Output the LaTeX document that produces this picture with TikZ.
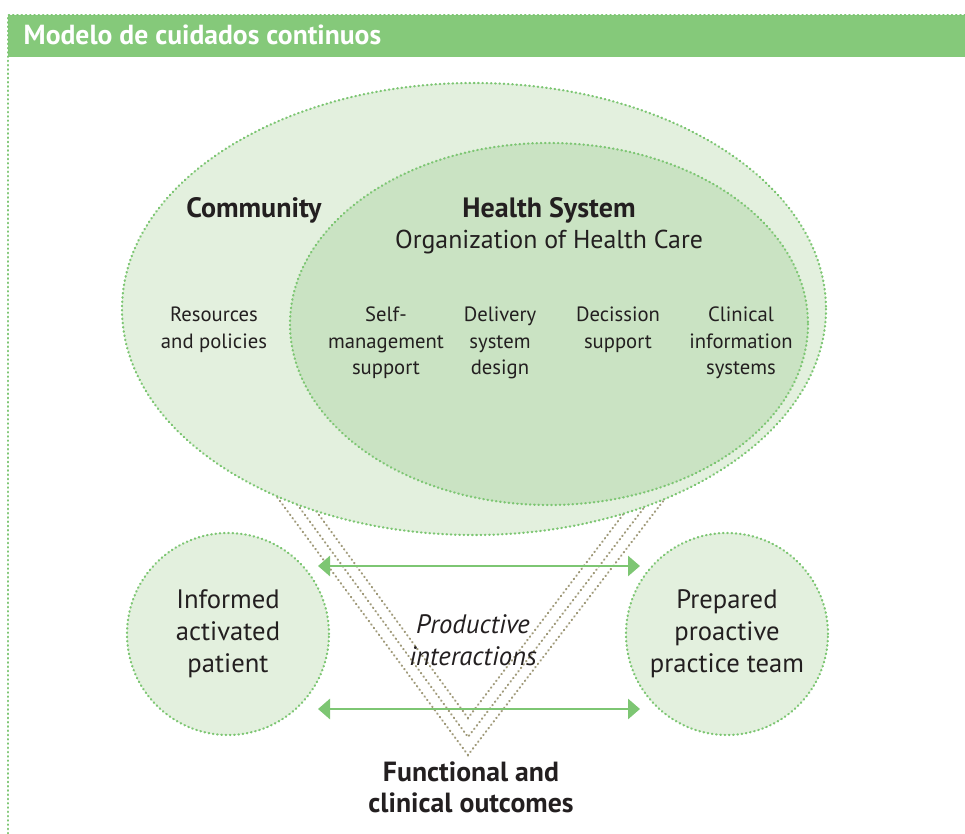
\documentclass[tikz,border=0pt]{standalone}
\usepackage{fontspec}
\setmainfont{PT Sans}
\usetikzlibrary{arrows.meta}

\begin{document}
\begin{tikzpicture}[
  x=0.75pt, y=-0.75pt,
  rim/.style={draw=rimgreen, line width=1.7pt, dash pattern=on 0.4pt off 2.8pt, line cap=round},
  vline/.style={draw=vgray, line width=1.6pt, dash pattern=on 0.4pt off 2.8pt, line cap=round},
  link/.style={draw=rimgreen, line width=2.2pt, {Triangle[length=9pt,width=15pt]}-{Triangle[length=9pt,width=15pt]}},
  small/.style={align=center, text=ink, font=\fontsize{15.5}{20}\selectfont},
  big/.style={align=center, text=ink, font=\fontsize{20}{24}\selectfont},
  heavy/.style={big, font=\fontsize{21}{23.5}\selectfont\bfseries},
  actor/.style={circle, rim, fill=paleg, minimum size=151.5pt, inner sep=0pt, big},
]
\definecolor{rimgreen}{RGB}{125,198,115}
\definecolor{headg}{RGB}{133,201,122}
\definecolor{paleg}{RGB}{227,240,222}
\definecolor{midg}{RGB}{202,227,195}
\definecolor{vgray}{RGB}{160,154,122}
\definecolor{ink}{RGB}{35,31,32}

\useasboundingbox (0,0) rectangle (965,834);

\fill [headg] (8,15) rectangle (965,57);
\draw [rim] (965,15) -- (8,15) -- (8,834);
\node [anchor=base west, text=white, font=\fontsize{20.7}{22}\selectfont\bfseries] (title) at (19,45) {Modelo de cuidados continuos};

\draw [vline] (257,470) -- (468,755) -- (687,470);
\draw [vline] (272,470) -- (468,737) -- (673,470);
\draw [vline] (286,470) -- (468,718) -- (657,470);

\draw [rim, fill=paleg] (474,309) ellipse [x radius=352, y radius=226];
\draw [rim, fill=midg] (549,324) ellipse [x radius=259, y radius=181];

\node [heavy] (community) at (254,210) {Community};
\node [heavy] (health) at (549,210) {Health System};
\node [big, font=\fontsize{19.4}{24}\selectfont] (org) at (549,242) {Organization of Health Care};

\node [small] (resources) at (214,330) {Resources\\and policies};
\node [small] (selfmgmt) at (386,343) {Self-\\management\\support};
\node [small] (delivery) at (500,343) {Delivery\\system\\design};
\node [small] (decision) at (618,330) {Decission\\support};
\node [small] (clinical) at (741,343) {Clinical\\information\\systems};

\node [actor] (patient) at (228,634) {Informed\\activated\\patient};
\node [actor] (team) at (727,634) {Prepared\\proactive\\practice team};

\coordinate (up-l) at (318,566);
\coordinate (up-r) at (640,566);
\coordinate (lo-l) at (318,709);
\coordinate (lo-r) at (640,709);
\draw [link] (up-l) -- (up-r);
\draw [link] (lo-l) -- (lo-r);

\node [big, font=\fontsize{20}{24}\selectfont\itshape] (interactions) at (473,640) {Productive\\interactions};
\node [heavy, font=\fontsize{20.8}{23.5}\selectfont\bfseries] (outcomes) at (471,787) {Functional and\\clinical outcomes};

\end{tikzpicture}
\end{document}
